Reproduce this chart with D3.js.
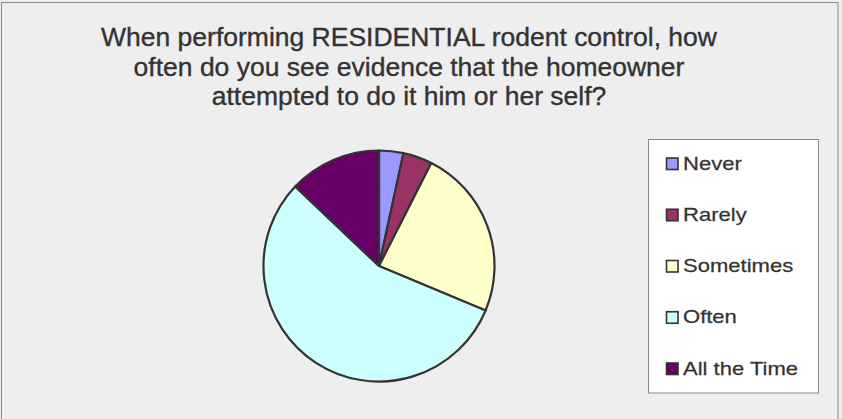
<!DOCTYPE html>
<html><head><meta charset="utf-8">
<script src="https://cdn.jsdelivr.net/npm/d3@7"></script>
<style>html,body{margin:0;padding:0;background:#eeeeee;}</style>
</head><body>
<svg id="c" width="842" height="419"></svg>
<script>
const categories = ["Never", "Rarely", "Sometimes", "Often", "All the Time"];
const values = [5, 6, 35, 82, 19];
const colors = ["#9999FF", "#993366", "#FFFFCC", "#CCFFFF", "#660066"];
const titleLines = ["When performing RESIDENTIAL rodent control, how",
  "often do you see evidence that the homeowner",
  "attempted to do it him or her self?"];

const svg = d3.select("#c");
svg.append("rect").attr("x", 1.5).attr("y", 2.5).attr("width", 836.5).attr("height", 430)
  .attr("fill", "#eeeeee").attr("stroke", "#888888").attr("stroke-width", 1);

const title = svg.append("text").attr("text-anchor", "middle")
  .attr("transform", "translate(409,0) scale(1.06,1)")
  .attr("font-family", "Liberation Sans, Arial, sans-serif").attr("font-size", 25)
  .attr("fill", "#333333").attr("stroke", "#333333").attr("stroke-width", 0.35);
titleLines.forEach((t, i) => title.append("tspan").attr("x", 0).attr("y", 46.3 + i * 29.5).text(t));

const cx = 379, cy = 266, r = 115.5;
const pie = d3.pie().sort(null).value(d => d)(values);
const arc = d3.arc().innerRadius(0).outerRadius(r);
svg.append("g").attr("transform", `translate(${cx},${cy})`)
  .selectAll("path").data(pie).join("path")
  .attr("d", arc).attr("fill", (d, i) => colors[i])
  .attr("stroke", "#333333").attr("stroke-width", 2.2).attr("stroke-linejoin", "round");

const lg = svg.append("g");
lg.append("rect").attr("x", 648.5).attr("y", 139.5).attr("width", 170).attr("height", 253.5)
  .attr("fill", "#ffffff").attr("stroke", "#888888").attr("stroke-width", 1);
const ly = d3.scalePoint().domain(categories).range([164, 369]);
const items = lg.selectAll("g.it").data(categories).join("g").attr("class", "it")
  .attr("transform", d => `translate(0,${ly(d)})`);
items.append("rect").attr("x", 666.5).attr("y", -6).attr("width", 11.5).attr("height", 11.5)
  .attr("fill", (d, i) => colors[i]).attr("stroke", "#333333").attr("stroke-width", 1.6);
items.append("text").attr("transform", "translate(683,5.7) scale(1.16,1)")
  .attr("font-family", "Liberation Sans, Arial, sans-serif").attr("font-size", 19)
  .attr("fill", "#333333").attr("stroke", "#333333").attr("stroke-width", 0.25).text(d => d);
</script>
</body></html>
